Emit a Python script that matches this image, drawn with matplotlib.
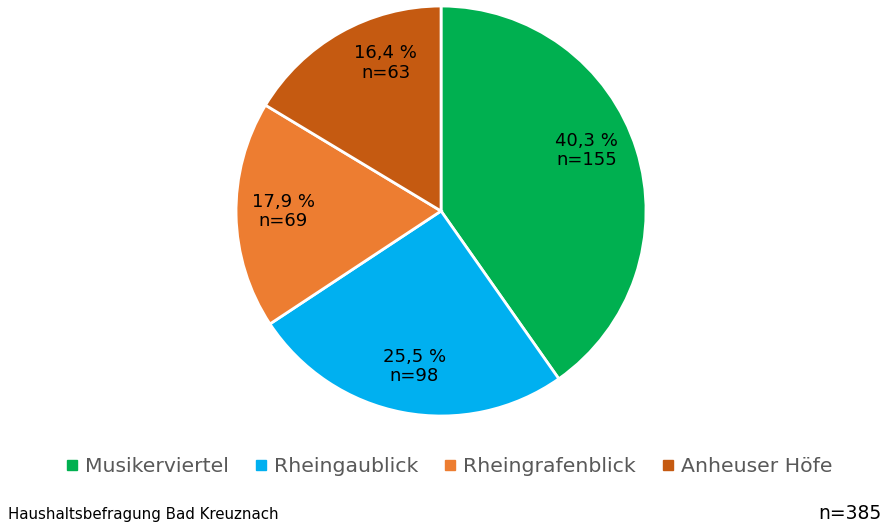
import numpy as np
import matplotlib
matplotlib.use("Agg")
import matplotlib.pyplot as plt
from matplotlib.lines import Line2D

# Wohngebiete der befragten Haushalte
areas = ["Musikerviertel", "Rheingaublick", "Rheingrafenblick", "Anheuser Höfe"]
counts = [155, 98, 69, 63]
shares = [40.3, 25.5, 17.9, 16.4]
colors = ["#00B050", "#00B0F0", "#ED7D31", "#C55A11"]
n_total = 385

# small angle tweaks (deg) for the label placement inside each wedge
label_turn = [5, 1, -1, -9]

plt.rcParams['font.family'] = ['DejaVu Sans']

fig = plt.figure(figsize=(8.85, 5.28), dpi=100)
ax = fig.add_axes([0.2667, 0.2121, 0.4633, 0.7765])

wedges, _ = ax.pie(counts, colors=colors, startangle=90, counterclock=False,
                   radius=1.0, wedgeprops=dict(edgecolor="white", linewidth=2))
ax.set_xlim(-1, 1)
ax.set_ylim(-1, 1)
ax.set_aspect("equal")

for w, share, n, turn in zip(wedges, shares, counts, label_turn):
    ang = np.deg2rad((w.theta1 + w.theta2) / 2 + turn)
    r = 0.77
    txt = "{} %\nn={}".format(str(share).replace(".", ","), n)
    ax.text(r * np.cos(ang), r * np.sin(ang), txt, ha="center",
            va="center", fontsize=13, color="black", linespacing=1.1)

handles = [Line2D([0], [0], marker="s", linestyle="", markersize=7,
                  markerfacecolor=c, markeredgecolor=c) for c in colors]
leg = fig.legend(handles, areas, loc="center", bbox_to_anchor=(0.508, 0.116),
                 ncol=4, frameon=False, handlelength=0.5, handletextpad=0.4,
                 columnspacing=1.3, prop=dict(size=14.7))
for t in leg.get_texts():
    t.set_color("#595959")

fig.text(0.009, 0.025, "Haushaltsbefragung Bad Kreuznach", fontsize=10.8,
         ha="left", va="center", color="black")
fig.text(0.996, 0.027, "n={}".format(n_total), fontsize=13.5, ha="right",
         va="center", color="black")

fig.savefig("out.png", dpi=100)
